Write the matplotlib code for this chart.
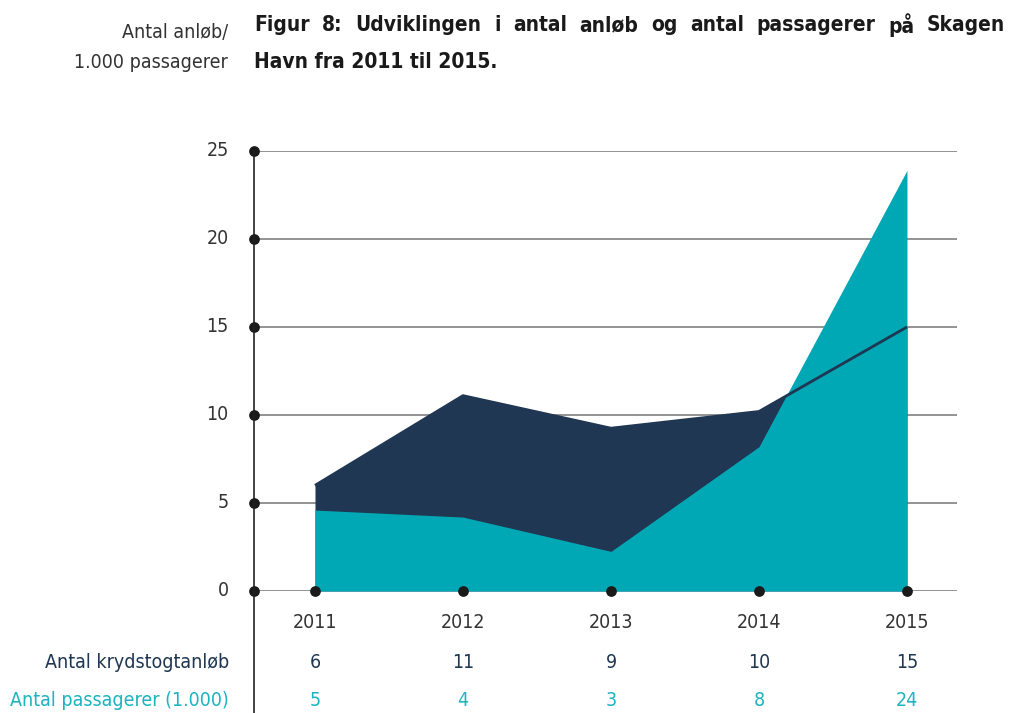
import matplotlib
matplotlib.use("Agg")
import matplotlib.pyplot as plt
from matplotlib.lines import Line2D

plt.rcParams['font.family'] = ['DejaVu Sans']
plt.rcParams['font.stretch'] = 'condensed'

years = [2011, 2012, 2013, 2014, 2015]
anlob = [6.0, 11.1, 9.25, 10.2, 15.0]
passagerer = [4.6, 4.2, 2.25, 8.2, 23.9]
anlob_labels = ["6", "11", "9", "10", "15"]
pass_labels = ["5", "4", "3", "8", "24"]
yticks = [0, 5, 10, 15, 20, 25]

DARK = "#1F3752"
TEAL = "#00A8B5"
TEAL_TXT = "#1DB3C0"
TXT = "#333333"

W, H = 1011, 713
fig = plt.figure(figsize=(W/100, H/100), dpi=100)
x0, x1, yb, yt = 254, 957, 591, 151
ax = fig.add_axes([x0/W, 1-yb/H, (x1-x0)/W, (yb-yt)/H])
ax.set_xlim(2010.588, 2015.338)
ax.set_ylim(0, 25)
for s in ax.spines.values():
    s.set_visible(False)
ax.set_xticks([]); ax.set_yticks([])

for t in yticks:
    ax.axhline(t, color="#808080", lw=1.2, zorder=1)
ax.fill_between(years, 0, anlob, color=DARK, lw=0, zorder=2)
ax.fill_between(years, 0, passagerer, color=TEAL, lw=0, zorder=3)
ax.plot(years, anlob, color=DARK, lw=2, zorder=4, solid_capstyle='butt')

fig.add_artist(Line2D([x0/W, x0/W], [0, 1-yt/H], color="#222222", lw=1.2))

ax.scatter([2010.588]*len(yticks), yticks, s=45, color="#1a1a1a", zorder=6, clip_on=False)
ax.scatter(years, [0]*len(years), s=45, color="#1a1a1a", zorder=6, clip_on=False)

fs = 14
for t in yticks:
    ax.text(2010.588 - 0.17, t, str(t), ha="right", va="center", fontsize=fs, color=TXT)

def fy(py):
    return 1 - py/H

for i, yr in enumerate(years):
    xf = (x0 + (yr - 2010.588) / (2015.338 - 2010.588) * (x1 - x0)) / W
    fig.text(xf, fy(623), str(yr), ha="center", va="center", fontsize=fs, color=TXT)
    fig.text(xf, fy(662), anlob_labels[i], ha="center", va="center", fontsize=fs, color=DARK)
    fig.text(xf, fy(700), pass_labels[i], ha="center", va="center", fontsize=fs, color=TEAL_TXT)

fig.text(229/W, fy(662), "Antal krydstogtanløb", ha="right", va="center", fontsize=fs, color=DARK)
fig.text(229/W, fy(700), "Antal passagerer (1.000)", ha="right", va="center", fontsize=fs, color=TEAL_TXT)

fig.text(228/W, fy(33), "Antal anløb/", ha="right", va="center", fontsize=fs, color=TXT)
fig.text(228/W, fy(63), "1.000 passagerer", ha="right", va="center", fontsize=fs, color=TXT)

# justified first title line
words = "Figur 8: Udviklingen i antal anløb og antal passagerer på Skagen".split()
tfs = 15
fig.canvas.draw()
r = fig.canvas.get_renderer()
tmp = [fig.text(0, 0, w, fontsize=tfs, fontweight="bold") for w in words]
widths = [t.get_window_extent(r).width for t in tmp]
for t in tmp:
    t.remove()
left, right = 254, 1005
gap = (right - left - sum(widths)) / (len(words) - 1)
xp = left
for w, wd in zip(words, widths):
    fig.text(xp/W, fy(25), w, ha="left", va="center", fontsize=tfs, fontweight="bold", color="#1a1a1a")
    xp += wd + gap
fig.text(254/W, fy(62), "Havn fra 2011 til 2015.",
         ha="left", va="center", fontsize=tfs, fontweight="bold", color="#1a1a1a")

fig.savefig("out.png", dpi=100)
